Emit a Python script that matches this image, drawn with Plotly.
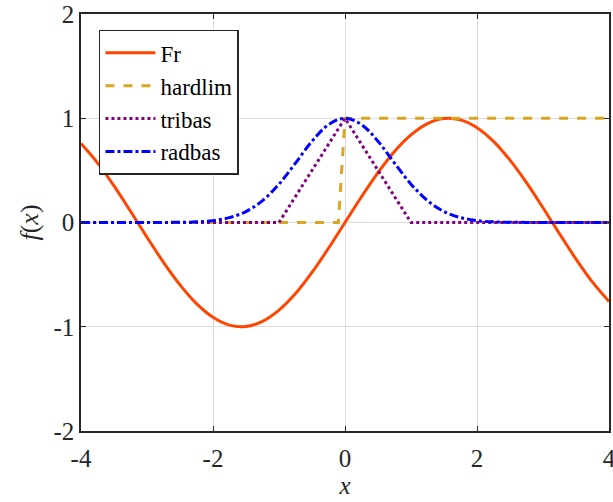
import plotly.graph_objects as go

x_s = [-4, -3.75, -3.5, -3.25, -3, -2.75, -2.5, -2.25, -2, -1.75, -1.5, -1.25, -1, -0.75, -0.5, -0.25,
       0, 0.25, 0.5, 0.75, 1, 1.25, 1.5, 1.75, 2, 2.25, 2.5, 2.75, 3, 3.25, 3.5, 3.75, 4]
fr_y = [0.757, 0.572, 0.351, 0.108, -0.141, -0.382, -0.598, -0.778, -0.909, -0.984, -0.997, -0.949,
        -0.841, -0.682, -0.479, -0.247, 0.0, 0.247, 0.479, 0.682, 0.841, 0.949, 0.997, 0.984, 0.909,
        0.778, 0.598, 0.382, 0.141, -0.108, -0.351, -0.572, -0.757]
radbas_y = [0, 0, 0, 0, 0, 0.001, 0.002, 0.006, 0.018, 0.047, 0.105, 0.210, 0.368, 0.570, 0.779, 0.939,
            1.0, 0.939, 0.779, 0.570, 0.368, 0.210, 0.105, 0.047, 0.018, 0.006, 0.002, 0.001, 0, 0, 0, 0, 0]
hard_x = [-4, -0.1, 0, 4]
hard_y = [0, 0, 1, 1]
tri_x = [-4, -1, 0, 1, 4]
tri_y = [0, 0, 1, 0, 0]
ticks_x = [-4, -2, 0, 2, 4]
ticks_y = [-2, -1, 0, 1, 2]

font = "Liberation Serif, Times New Roman, serif"
fig = go.Figure()
fig.add_trace(go.Scatter(x=x_s, y=fr_y, mode="lines", name="Fr", line=dict(color="#FF4500", width=3, shape="spline")))
fig.add_trace(go.Scatter(x=hard_x, y=hard_y, mode="lines", name="hardlim", line=dict(color="#DAA520", width=3, dash="dash")))
fig.add_trace(go.Scatter(x=tri_x, y=tri_y, mode="lines", name="tribas", line=dict(color="#800080", width=3, dash="dot")))
fig.add_trace(go.Scatter(x=x_s, y=radbas_y, mode="lines", name="radbas", line=dict(color="#0000FF", width=3, dash="dashdot", shape="spline")))

ax = dict(showline=True, linecolor="#262626", linewidth=1.5, mirror="ticks", ticks="inside", ticklen=5,
          tickcolor="#262626", showgrid=True, gridcolor="#DCDCDC", gridwidth=1, zeroline=False,
          automargin=False, ticklabeloverflow="allow",
          tickfont=dict(family=font, size=25, color="#262626"))
fig.update_xaxes(range=[-4, 4], tickvals=ticks_x, ticktext=[str(v) for v in ticks_x], ticklabelstandoff=4,
                 title=dict(text="<i>x</i>", font=dict(family=font, size=25, color="#262626"), standoff=0), **ax)
fig.update_yaxes(range=[-2, 2], tickvals=ticks_y, ticktext=[str(v) for v in ticks_y],
                 title=dict(text="<i>f</i>(<i>x</i>)", font=dict(family=font, size=26, color="#262626"), standoff=7), **ax)
fig.update_layout(width=613, height=502, margin=dict(l=81, r=4, t=14, b=71),
                  font=dict(family=font),
                  plot_bgcolor="white", paper_bgcolor="white",
                  legend=dict(x=0.034, y=0.962, xanchor="left", yanchor="top", bgcolor="white",
                              bordercolor="#262626", borderwidth=1.5, itemwidth=50,
                              font=dict(family=font, size=23, color="black"), tracegroupgap=0),
                  showlegend=True)
fig.write_html("out.html")
